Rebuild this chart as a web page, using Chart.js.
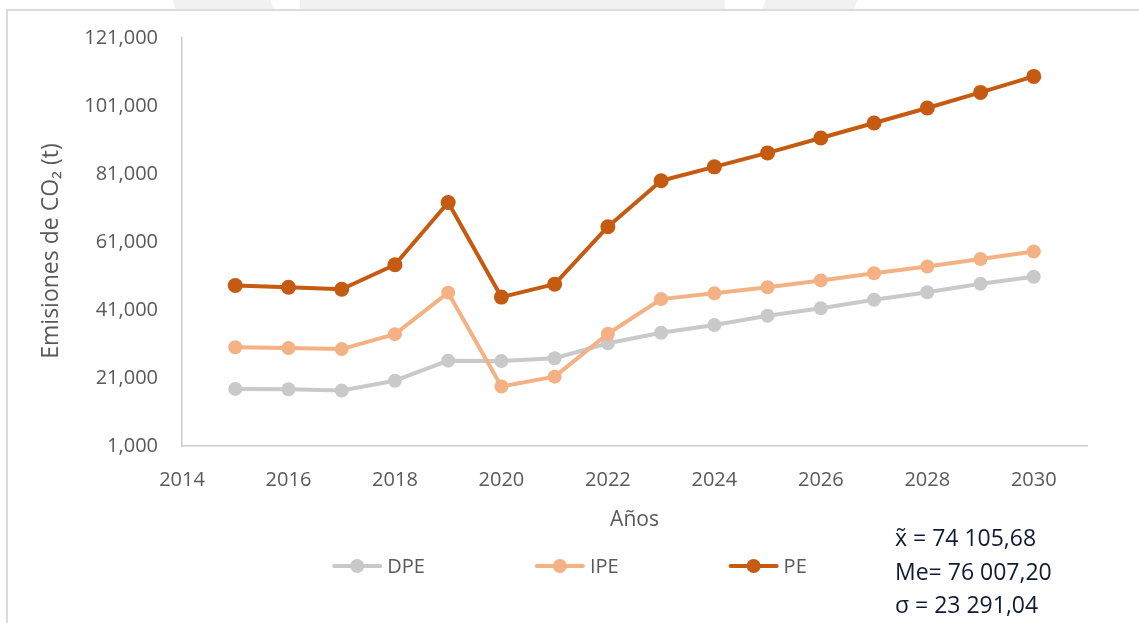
<!DOCTYPE html>
<html>
<head>
<meta charset="utf-8">
<script src="https://cdn.jsdelivr.net/npm/chart.js@4"></script>
<style>
  html, body { margin: 0; padding: 0; background: #ffffff; }
  #wrap { position: relative; width: 1139px; height: 623px; overflow: hidden; background: #fff; }
  #frame { position: absolute; left: 6px; top: 9px; width: 1200px; height: 700px; border-left: 2px solid #dcdcdc; border-top: 2px solid #dcdcdc; }
  .wm { position: absolute; top: 0; height: 9px; background: #f1f1f1; }
  canvas { position: absolute; left: 0; top: 0; }
  #stats { position: absolute; left: 895px; top: 521px; font-family: "Open Sans", sans-serif; font-size: 23px; line-height: 33.5px; color: #101a35; white-space: nowrap; }
</style>
</head>
<body>
<div id="wrap">
  <div class="wm" style="left:174px; width:98px; transform: skewX(20deg);"></div>
  <div class="wm" style="left:300px; width:425px;"></div>
  <div class="wm" style="left:764px; width:92px; transform: skewX(-20deg);"></div>
  <div id="frame"></div>
  <canvas id="c" width="1139" height="623"></canvas>
  <div id="stats">x̃ = 74 105,68<br>Me= 76 007,20<br>σ = 23 291,04</div>
</div>
<script>
const years = [2015, 2016, 2017, 2018, 2019, 2020, 2021, 2022, 2023, 2024, 2025, 2026, 2027, 2028, 2029, 2030];
const seriesNames = ['DPE', 'IPE', 'PE'];
const dpe = [17800, 17700, 17300, 20200, 26100, 26000, 26800, 31200, 34300, 36600, 39300, 41500, 44000, 46200, 48700, 50800];
const ipe = [30050, 29800, 29500, 33900, 46100, 18500, 21400, 34000, 44200, 45900, 47700, 49700, 51800, 53800, 56000, 58200];
const pe  = [48200, 47700, 47100, 54300, 72600, 44800, 48600, 65500, 79000, 83100, 87200, 91600, 96000, 100400, 105000, 109700];
const yTicks = [1000, 21000, 41000, 61000, 81000, 101000, 121000];
const xTicks = [2014, 2016, 2018, 2020, 2022, 2024, 2026, 2028, 2030];
const colors = ['#C9C9C9', '#F4B183', '#C55A11'];

const FONT = '"Open Sans", sans-serif';
const TXT = '#595959';

function pts(vals) { return years.map((y, i) => ({ x: y, y: vals[i] })); }

function ds(name, vals, color, order, r) {
  return {
    label: name, data: pts(vals), borderColor: color, backgroundColor: color,
    pointBackgroundColor: color, pointBorderColor: color, borderWidth: 4,
    pointRadius: r, pointHoverRadius: r, pointBorderWidth: 0, tension: 0, order: order,
    borderCapStyle: 'round', borderJoinStyle: 'round'
  };
}

const legendPlugin = {
  id: 'xlLegend',
  afterDraw(chart) {
    const ctx = chart.ctx;
    ctx.save();
    ctx.font = '20px ' + FONT;
    const lineLen = 50, gap = 5, itemGap = 110, y = 566;
    const items = chart.data.datasets.map(d => ({ label: d.label, color: d.borderColor, w: ctx.measureText(d.label).width }));
    const total = items.reduce((s, it) => s + lineLen + gap + it.w, 0) + itemGap * (items.length - 1);
    let x = chart.width / 2 - total / 2;
    items.forEach(it => {
      ctx.strokeStyle = it.color; ctx.lineWidth = 4; ctx.lineCap = 'round';
      ctx.beginPath(); ctx.moveTo(x + 2, y); ctx.lineTo(x + lineLen - 2, y); ctx.stroke();
      ctx.fillStyle = it.color;
      ctx.beginPath(); ctx.arc(x + lineLen / 2, y, 7, 0, Math.PI * 2); ctx.fill();
      ctx.fillStyle = TXT; ctx.textBaseline = 'middle'; ctx.textAlign = 'left';
      ctx.fillText(it.label, x + lineLen + gap, y + 1);
      x += lineLen + gap + it.w + itemGap;
    });
    ctx.restore();
  }
};

new Chart(document.getElementById('c'), {
  type: 'line',
  data: {
    datasets: [
      ds(seriesNames[0], dpe, colors[0], 3, 7),
      ds(seriesNames[1], ipe, colors[1], 2, 7),
      ds(seriesNames[2], pe, colors[2], 1, 7.5)
    ]
  },
  options: {
    responsive: false,
    animation: false,
    devicePixelRatio: 1,
    layout: { padding: { left: 0, right: 52, top: 38, bottom: 77 } },
    plugins: { legend: { display: false }, tooltip: { enabled: false } },
    scales: {
      x: {
        type: 'linear', min: 2014, max: 2031,
        grid: { display: false, drawTicks: false },
        border: { display: true, color: '#cbcbcb', width: 1.5 },
        afterBuildTicks: (s) => { s.ticks = xTicks.map(v => ({ value: v })); },
        afterFit: (s) => { s.height = 100; },
        ticks: { includeBounds: false, stepSize: 2, padding: 22, maxRotation: 0, autoSkip: false,
                 color: TXT, font: { family: FONT, size: 20 }, callback: (v) => String(v) },
        title: { display: true, text: 'Años', color: TXT, font: { family: FONT, size: 21 }, padding: { top: 0, bottom: 13 } }
      },
      y: {
        type: 'linear', min: 1000, max: 121000,
        grid: { display: false, drawTicks: false },
        border: { display: true, color: '#cbcbcb', width: 1.5 },
        afterBuildTicks: (s) => { s.ticks = yTicks.map(v => ({ value: v })); },
        afterFit: (s) => { s.width = 182; },
        ticks: { stepSize: 20000, padding: 24, color: TXT, font: { family: FONT, size: 20 },
                 callback: (v) => Number(v).toLocaleString('en-US') },
        title: { display: true, text: 'Emisiones de CO₂ (t)   ', color: TXT, font: { family: FONT, size: 23 }, padding: { top: 38, bottom: 0 } }
      }
    }
  },
  plugins: [legendPlugin]
});
</script>
</body>
</html>
